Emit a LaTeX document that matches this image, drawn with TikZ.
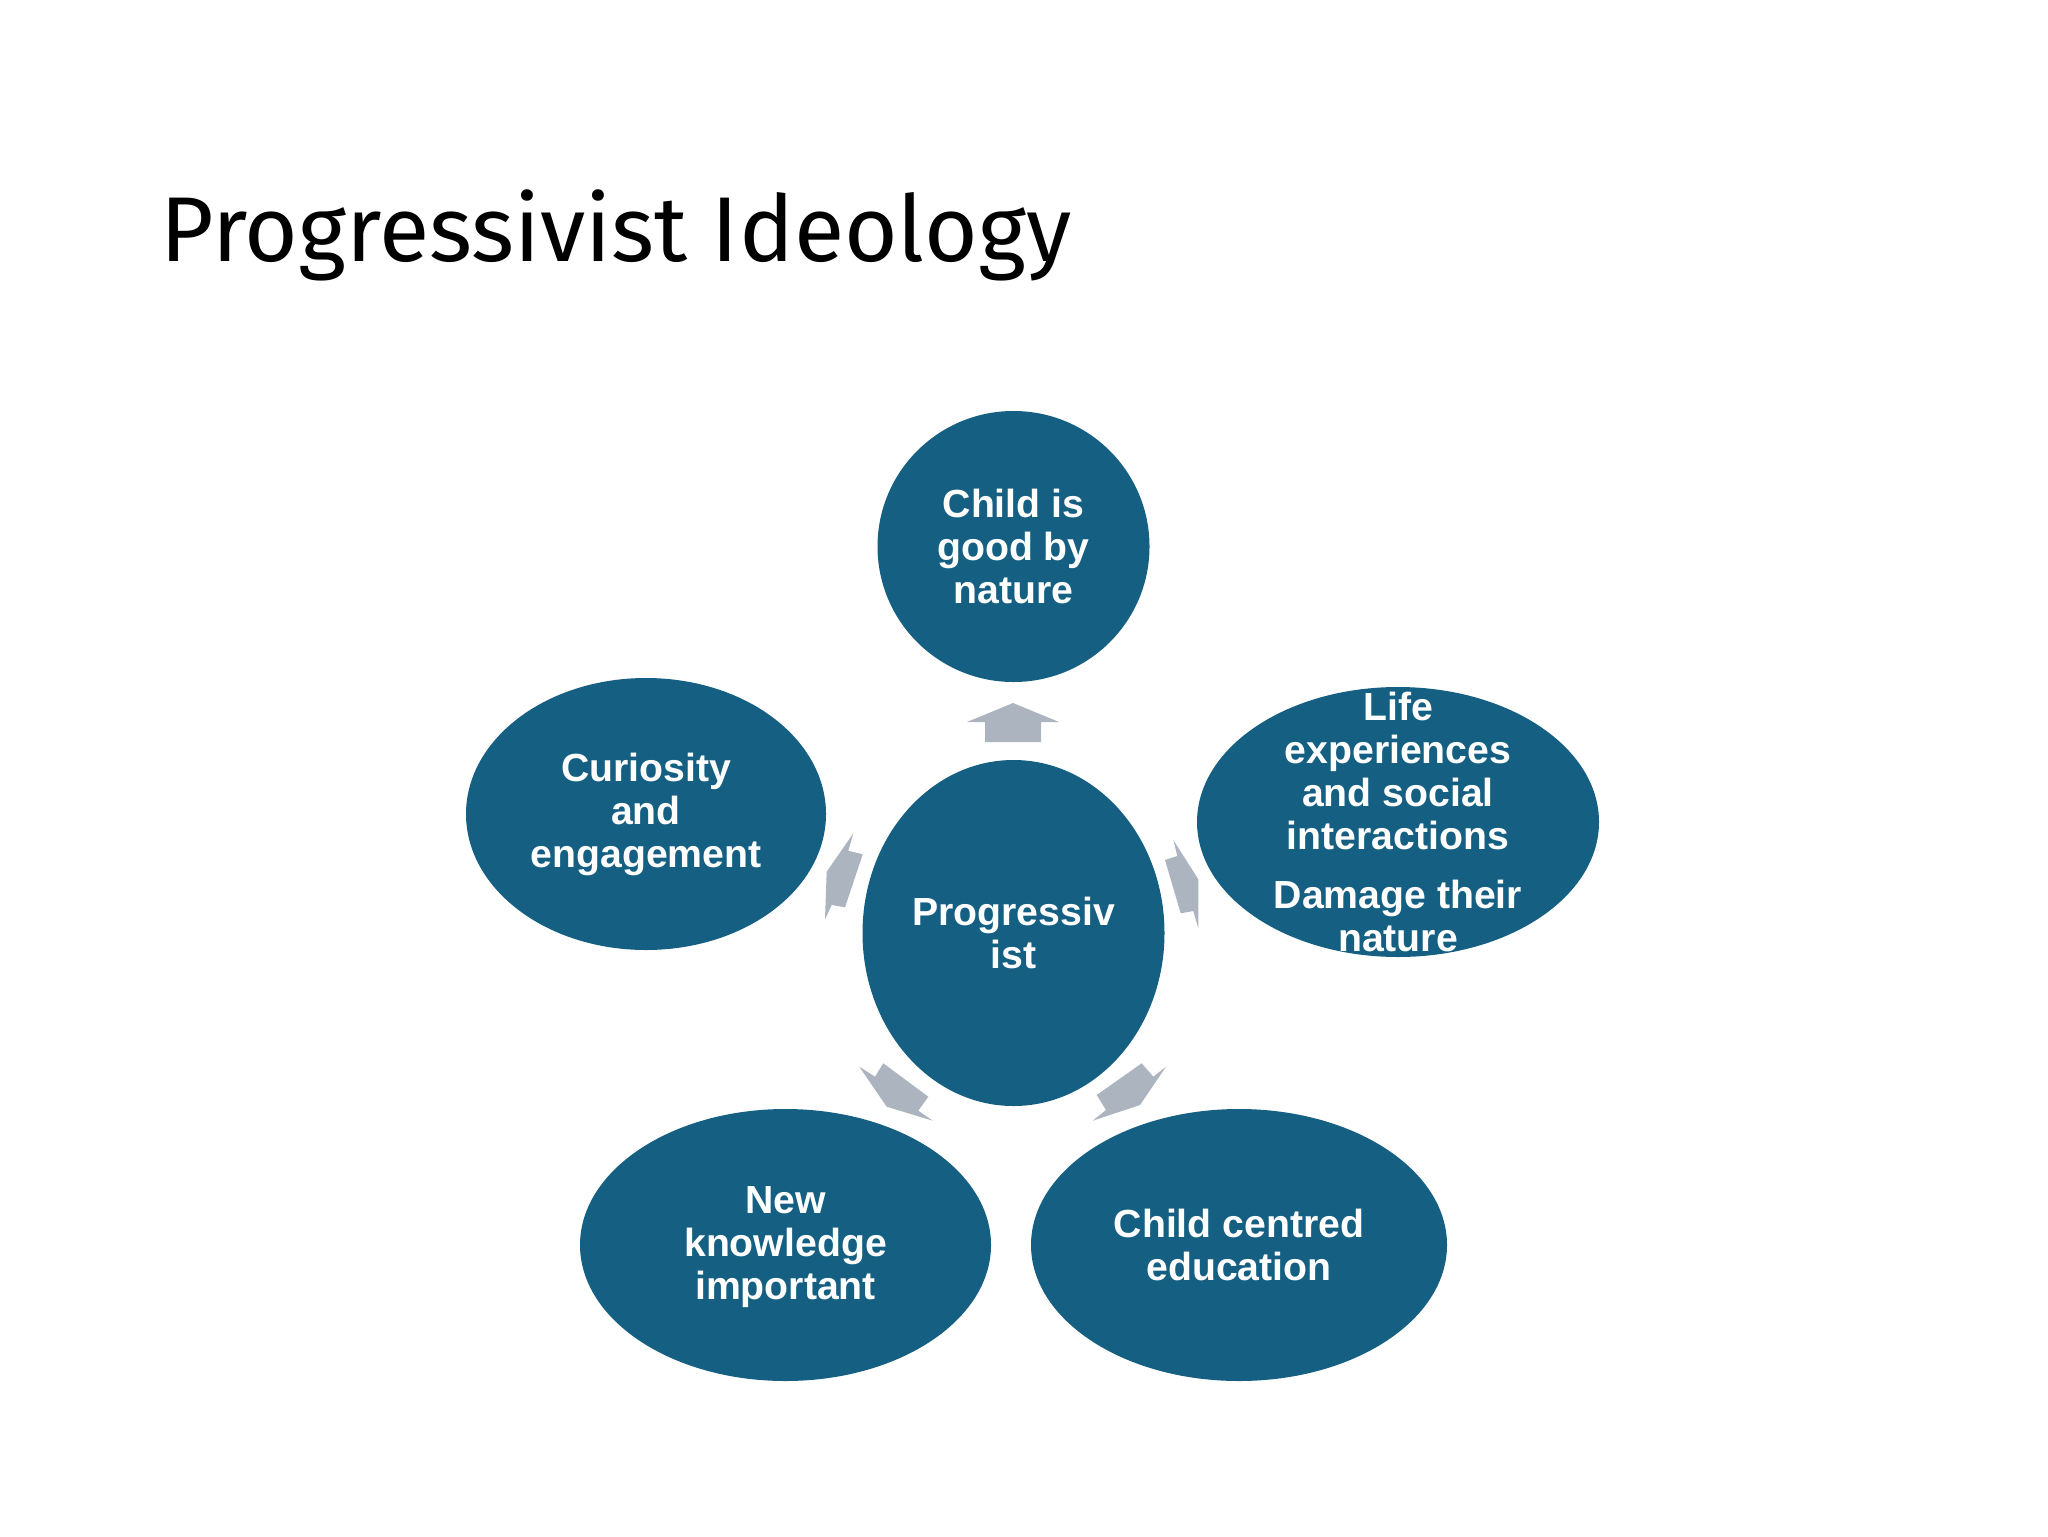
\documentclass[tikz,border=0pt]{standalone}
\usepackage{fontspec}
\setmainfont{Liberation Sans}
\newfontfamily\titlefont{Fira Sans}
\usetikzlibrary{shapes.geometric,positioning}
\definecolor{bubblecol}{RGB}{21,96,130}
\definecolor{arrowcol}{RGB}{172,180,192}

\begin{document}
\begin{tikzpicture}[x=0.5pt, y=-0.5pt, on grid,
    bubble/.style={ellipse, fill=bubblecol, inner sep=0pt},
    caption/.style={text=white, align=center, font=\bfseries\fontsize{19.6pt}{21.5pt}\selectfont},
    flow/.style={fill=arrowcol}]
    \fill[white] (0,0) rectangle (2048,1536);
    \useasboundingbox (0,0) rectangle (2048,1536);

    \node[anchor=base west, inner sep=0pt, font=\titlefont\fontsize{46pt}{50pt}\selectfont] (title) at (160,261) {Progressivist Ideology};

    \node[bubble, minimum width=151pt, minimum height=173pt] (hub) at (1013.5,933) {};
    \node[bubble, minimum width=136pt, minimum height=135.5pt] (nat) [above=193.25pt of hub] {};
    \node[bubble, minimum width=180pt, minimum height=136pt] (curio) [above left=59.5pt and 183.75pt of hub] {};
    \node[bubble, minimum width=201pt, minimum height=135pt] (life) [above right=55.5pt and 192.25pt of hub] {};
    \node[bubble, minimum width=205.5pt, minimum height=136pt] (know) [below left=156pt and 114pt of hub] {};
    \node[bubble, minimum width=208pt, minimum height=136pt] (centred) [below right=156pt and 112.75pt of hub] {};

    \node[caption] (hub_t) at (hub) {Progressiv\\ist};
    \node[caption] (nat_t) at (nat) {Child is\\good by\\nature};
    \node[caption] (curio_t) at (curio) {Curiosity\\and\\engagement};
    \node[caption] (life_t) at (life) {Life\\experiences\\and social\\interactions\\[8pt]Damage their\\nature};
    \node[caption] (know_t) at ([yshift=-1pt]know) {New\\knowledge\\important};
    \node[caption] (centred_t) at (centred) {Child centred\\education};

    \fill[flow] (1013,703) -- (1059,722) -- (1041,722) -- (1041,742) -- (985,742) -- (985,722) -- (967,722) -- cycle;
    \fill[flow] (853.3,833.3) -- (848.3,850.7) -- (862.7,854.3) -- (845,907.3) -- (831.7,905) -- (825,919.3) -- (826.7,871.7) -- cycle;
    \fill[flow] (1173.3,840) -- (1177.3,856) -- (1165,860) -- (1180.7,913.3) -- (1193.3,911) -- (1198.3,928.3) -- (1198.3,879.3) -- cycle;
    \fill[flow] (859.3,1066.7) -- (875,1076.7) -- (883.3,1063.3) -- (928.3,1096.7) -- (918.3,1110.7) -- (932.7,1120.7) -- (886.7,1106.7) -- cycle;
    \fill[flow] (1166,1066.7) -- (1153.3,1076.7) -- (1141.7,1063.3) -- (1096.7,1095) -- (1106,1110) -- (1092.7,1120.7) -- (1140,1105) -- cycle;
\end{tikzpicture}
\end{document}
